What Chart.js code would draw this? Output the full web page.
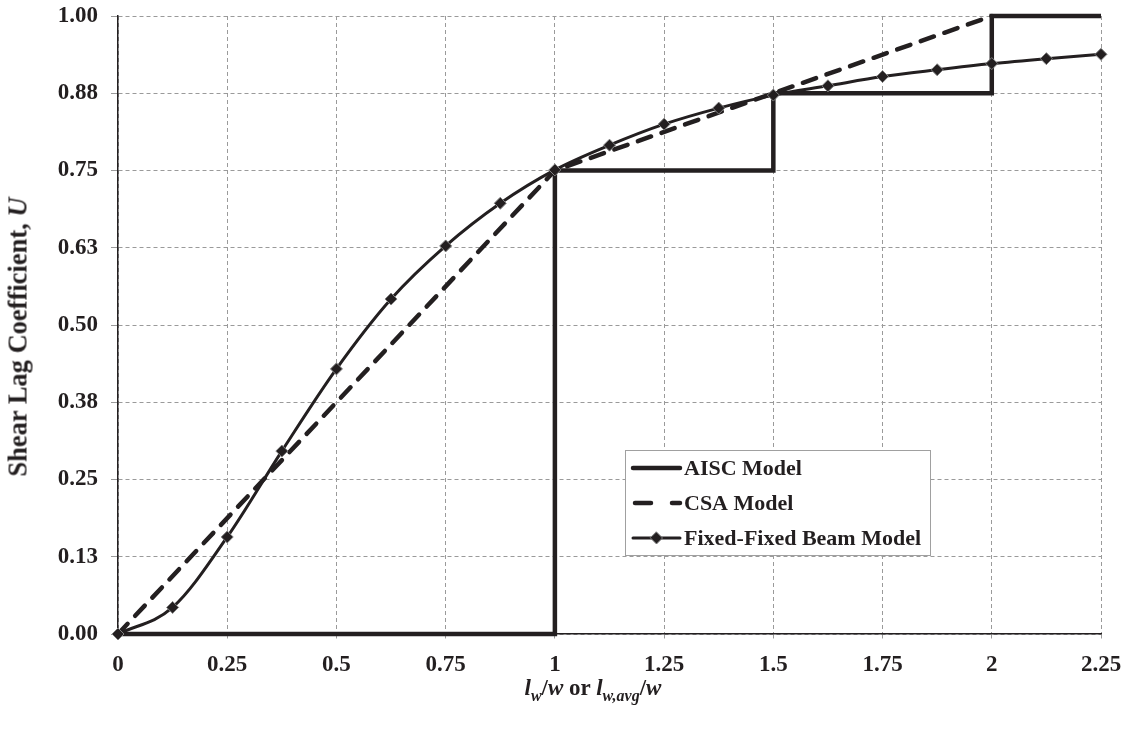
<!DOCTYPE html>
<html>
<head>
  <title>Shear Lag Coefficient</title>
  <script src="https://cdn.jsdelivr.net/npm/chart.js"></script>
  <style>
    body { margin: 0; background: #fff; }
    #wrap { position: relative; width: 1129px; height: 730px; font-family: "Liberation Serif", "Times New Roman", serif; font-weight: bold; color: #231f20; }
    #yTitle { position: absolute; left: 18px; top: 337px; transform: translate(-50%, -50%) rotate(-90deg); font-size: 26.5px; white-space: nowrap; }
    #xTitle { position: absolute; left: 593px; top: 690px; transform: translate(-50%, -50%); font-size: 23px; white-space: nowrap; }
    #xTitle sub { font-size: 16px; }
  </style>
</head>
<body>
<div id="wrap">
  <canvas id="chart" width="1129" height="730"></canvas>
  <div id="yTitle">Shear Lag Coefficient, <i>U</i></div>
  <div id="xTitle"><i>l<sub>w</sub></i>/<i>w</i> or <i>l<sub>w,avg</sub></i>/<i>w</i></div>
</div>

<script>
  // datos
  const aiscX = [0, 1, 1, 1.5, 1.5, 2, 2, 2.25];
  const aiscU = [0, 0, 0.75, 0.75, 0.875, 0.875, 1, 1];

  const csaX = [0, 1, 2];
  const csaU = [0, 0.75, 1];

  const beamX = [0, 0.125, 0.25, 0.375, 0.5, 0.625, 0.75, 0.875, 1, 1.125, 1.25, 1.375, 1.5, 1.625, 1.75, 1.875, 2, 2.125, 2.25];
  const beamU = [0, 0.043, 0.157, 0.296, 0.429, 0.542, 0.628, 0.697, 0.751, 0.791, 0.825, 0.851, 0.872, 0.887, 0.902, 0.913, 0.923, 0.931, 0.938];

  const xTickLabels = ['0', '0.25', '0.5', '0.75', '1', '1.25', '1.5', '1.75', '2', '2.25'];
  const yTickLabels = ['0.00', '0.13', '0.25', '0.38', '0.50', '0.63', '0.75', '0.88', '1.00'];

  const seriesNames = ['AISC Model', 'CSA Model', 'Fixed-Fixed Beam Model'];

  const ink = '#231f20';
  const serif = "'Liberation Serif', 'Times New Roman', serif";

  function pts(xs, ys) {
    return xs.map((x, i) => ({ x: x, y: ys[i] }));
  }

  // leyenda dibujada dentro del área del gráfico
  const boxLegend = {
    id: 'boxLegend',
    afterDraw(chart) {
      const ctx = chart.ctx;
      const left = 625, top = 450, w = 305, h = 105;
      ctx.save();
      ctx.fillStyle = '#fff';
      ctx.fillRect(left, top, w, h);
      ctx.strokeStyle = '#a0a0a0';
      ctx.lineWidth = 1;
      ctx.strokeRect(left + 0.5, top + 0.5, w, h);

      const rows = [468, 503, 538];
      const x0 = 633, x1 = 680;
      chart.data.datasets.forEach((ds, i) => {
        const y = rows[i];
        ctx.strokeStyle = ds.borderColor;
        ctx.lineWidth = ds.borderWidth;
        ctx.lineCap = 'round';
        ctx.beginPath();
        if (ds.borderDash) {
          ctx.moveTo(x0 + 2, y); ctx.lineTo(x0 + 18, y);
          ctx.moveTo(x1 - 8, y); ctx.lineTo(x1, y);
        } else {
          ctx.moveTo(x0, y); ctx.lineTo(x1, y);
        }
        ctx.stroke();
        if (ds.pointRadius) {
          const cx = (x0 + x1) / 2, r = ds.pointRadius;
          ctx.fillStyle = ds.pointBackgroundColor;
          ctx.strokeStyle = ds.pointBorderColor;
          ctx.lineWidth = 1;
          ctx.beginPath();
          ctx.moveTo(cx, y - r); ctx.lineTo(cx + r, y); ctx.lineTo(cx, y + r); ctx.lineTo(cx - r, y);
          ctx.closePath();
          ctx.fill(); ctx.stroke();
        }
        ctx.fillStyle = ink;
        ctx.font = 'bold 22px ' + serif;
        ctx.textBaseline = 'middle';
        ctx.textAlign = 'left';
        ctx.fillText(ds.label, 684, y + 1);
      });
      ctx.restore();
    }
  };

  new Chart(document.getElementById('chart'), {
    type: 'line',
    data: {
      datasets: [
        {
          label: seriesNames[0],
          data: pts(aiscX, aiscU),
          borderColor: ink,
          borderWidth: 4.5,
          pointRadius: 0,
          tension: 0,
          clip: false,
          order: 3
        },
        {
          label: seriesNames[1],
          data: pts(csaX, csaU),
          borderColor: ink,
          borderWidth: 4.5,
          borderDash: [14, 11],
          borderCapStyle: 'round',
          pointRadius: 0,
          tension: 0,
          clip: false,
          order: 2
        },
        {
          label: seriesNames[2],
          data: pts(beamX, beamU),
          borderColor: ink,
          borderWidth: 3,
          cubicInterpolationMode: 'monotone',
          pointStyle: 'rectRot',
          pointRadius: 6,
          pointBackgroundColor: '#231f20',
          pointBorderColor: '#808080',
          pointBorderWidth: 1,
          clip: false,
          order: 1
        }
      ]
    },
    options: {
      responsive: false,
      animation: false,
      layout: { padding: { left: 0, right: 28, top: 16, bottom: 0 } },
      plugins: {
        legend: { display: false },
        tooltip: { enabled: false }
      },
      scales: {
        x: {
          type: 'linear',
          min: 0,
          max: 2.25,
          afterFit: s => { s.height = 96; s.paddingLeft = 0; s.paddingRight = 0; },
          ticks: {
            stepSize: 0.25,
            padding: 10,
            color: ink,
            font: { family: serif, size: 23, weight: 'bold' },
            callback: (v, i) => xTickLabels[i]
          },
          grid: {
            color: '#9a9a9a',
            lineWidth: 1,
            tickLength: 7,
            tickBorderDash: [4, 3]
          },
          border: { color: ink, width: 1.5, dash: [4, 3] }
        },
        y: {
          min: 0,
          max: 1,
          afterFit: s => { s.width = 118; s.paddingTop = 0; s.paddingBottom = 0; },
          ticks: {
            stepSize: 0.125,
            padding: 13,
            color: ink,
            font: { family: serif, size: 23, weight: 'bold' },
            callback: (v, i) => yTickLabels[i]
          },
          grid: {
            color: '#9a9a9a',
            lineWidth: 1,
            tickLength: 7,
            tickColor: '#9a9a9a',
            tickBorderDash: []
          },
          border: { color: ink, width: 1.5, dash: [4, 3] }
        }
      }
    },
    plugins: [boxLegend]
  });
</script>
</body>
</html>
